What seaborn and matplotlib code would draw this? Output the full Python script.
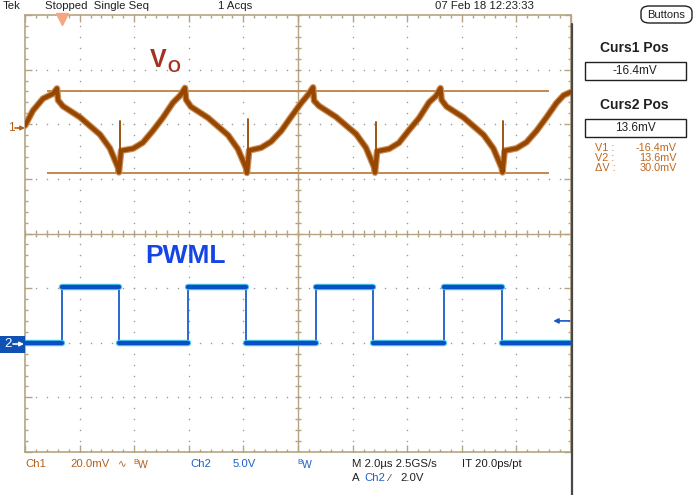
import numpy as np
import pandas as pd
import matplotlib
matplotlib.use("Agg")
import matplotlib.pyplot as plt
from matplotlib.patches import Rectangle, FancyBboxPatch, FancyArrowPatch
from matplotlib.lines import Line2D
import seaborn as sns

# ---- data (time in us, Ch1 in mV, Ch2 in V) ----
vo_t = [-10.0, -9.71, -9.34, -8.97, -8.83,
        -8.79, -8.61, -7.99, -7.25, -6.89, -6.59, -6.56, -6.48, -6.04, -5.68, -5.31, -4.95, -4.58, -4.32, -4.14,
        -4.10, -3.92, -3.30, -2.56, -2.20, -1.90, -1.87, -1.79, -1.35, -0.99, -0.62, -0.26, 0.11, 0.37, 0.55,
        0.59, 0.77, 1.39, 2.13, 2.49, 2.79, 2.82, 2.90, 3.34, 3.70, 4.07, 4.43, 4.80, 5.06, 5.22,
        5.26, 5.44, 6.06, 6.80, 7.16, 7.46, 7.49, 7.57, 8.01, 8.37, 8.74, 9.10, 9.47, 9.73, 10.0]
vo_mv = [1.1, 6.6, 11.0, 12.8, 14.7,
         10.4, 8.2, 4.2, -2.2, -7.2, -14.3, -16.0, -8.1, -7.3, -5.1, -0.7, 4.0, 9.5, 12.1, 14.9,
         10.6, 8.0, 4.0, -2.4, -7.5, -14.5, -16.2, -8.0, -7.0, -4.8, -0.9, 4.2, 9.3, 12.4, 15.1,
         10.2, 8.3, 4.3, -2.0, -7.0, -14.2, -16.1, -8.3, -7.4, -5.2, -0.5, 3.8, 9.6, 12.0, 14.8,
         10.5, 8.1, 4.1, -2.3, -7.3, -14.4, -16.0, -8.1, -7.2, -5.0, -0.8, 4.1, 9.4, 12.2, 13.4]

# narrow switching spikes on Vo
spike_t = [-6.53, -1.84, 2.85, 7.52]
spike_top_mv = [2.9, 3.4, 2.5, 2.7]
spike_base_mv = [-15.5, -15.7, -15.6, -15.5]

pwm_edges_us = [-8.65, -6.56, -4.03, -1.91, 0.66, 2.75, 5.35, 7.47]
pwm_low_v = 0.0
pwm_high_v = 5.1

cursor_mv = [-16.4, 13.6]
trig_level_v = 2.0

ch1_scale, ch1_offset = 20.0, 1.92   # mV/div, div
ch2_scale, ch2_offset = 5.0, -2.0    # V/div, div

# step trace for PWML (full) and its flat parts (drawn thicker, like the noise band)
bounds = [-10.0] + pwm_edges_us + [10.0]
levels = [pwm_low_v if i % 2 == 0 else pwm_high_v for i in range(len(bounds) - 1)]
step_t, step_v, flat_u = [], [], []
for i, lv in enumerate(levels):
    step_t += [bounds[i], bounds[i + 1]]
    step_v += [lv, lv]
    flat_u += [i, i]

vo_df = pd.DataFrame({"t": vo_t, "div": np.array(vo_mv) / ch1_scale + ch1_offset})
spk_df = pd.DataFrame({
    "t": np.repeat(spike_t, 2),
    "div": np.ravel(np.column_stack([spike_base_mv, spike_top_mv])) / ch1_scale + ch1_offset,
    "u": np.repeat(range(len(spike_t)), 2),
})
step_df = pd.DataFrame({"t": step_t, "div": np.array(step_v) / ch2_scale + ch2_offset, "u": flat_u})

sns.set_theme(style="white")
plt.rcParams["font.family"] = ["Liberation Sans", "DejaVu Sans"]

W, H = 698, 495
fig = plt.figure(figsize=(W / 100, H / 100), dpi=100)
fig.patch.set_facecolor("white")
ax = fig.add_axes([25 / W, 1 - 452 / H, 546 / W, 437 / H])
ax.set_xlim(-10, 10)
ax.set_ylim(-4, 4)

frame = "#b4a482"
for s in ax.spines.values():
    s.set_color(frame)
    s.set_linewidth(1.2)
ax.set_xticks(np.arange(-10, 10.01, 2))
ax.set_xticks(np.arange(-10, 10.01, 0.4), minor=True)
ax.set_yticks(np.arange(-4, 4.01, 1))
ax.set_yticks(np.arange(-4, 4.01, 0.2), minor=True)
ax.tick_params(which="both", direction="in", top=True, right=True, bottom=True, left=True,
               labelleft=False, labelbottom=False, color=frame, width=1)
ax.tick_params(which="major", length=5)
ax.tick_params(which="minor", length=2.5)

# center cross with ticks
ax.axhline(0, color=frame, lw=1, zorder=1)
ax.axvline(0, color=frame, lw=1, zorder=1)
mx = np.arange(-10, 10.01, 0.4)
my = np.arange(-4, 4.01, 0.2)
ax.vlines(mx, -0.06, 0.06, color=frame, lw=1, zorder=1)
ax.hlines(my, -0.11, 0.11, color=frame, lw=1, zorder=1)

# dotted graticule
gx, gy = [], []
for x in range(-8, 9, 2):
    if x != 0:
        gx += [x] * len(my)
        gy += list(my)
for y in range(-3, 4):
    if y != 0:
        gx += list(mx)
        gy += [y] * len(mx)
ax.scatter(gx, gy, s=1.2, color="#9a9a9a", linewidths=0, zorder=1)

# cursors
for c in cursor_mv:
    ax.hlines(c / ch1_scale + ch1_offset, -9.2, 9.2, color="#c08a50", lw=1.4, zorder=2)

# traces
sns.lineplot(data=vo_df, x="t", y="div", ax=ax, sort=False, estimator=None,
             color="#c98f5a", lw=4.8, zorder=3)
sns.lineplot(data=vo_df, x="t", y="div", ax=ax, sort=False, estimator=None,
             color="#974600", lw=3.1, zorder=4)
sns.lineplot(data=spk_df, x="t", y="div", units="u", ax=ax, sort=False, estimator=None,
             color="#974600", lw=1.3, zorder=4)
sns.lineplot(data=step_df, x="t", y="div", ax=ax, sort=False, estimator=None,
             color="#1a5ccc", lw=1.3, zorder=3)
sns.lineplot(data=step_df, x="t", y="div", units="u", ax=ax, sort=False, estimator=None,
             color="#46c4e6", lw=4.6, zorder=3)
sns.lineplot(data=step_df, x="t", y="div", units="u", ax=ax, sort=False, estimator=None,
             color="#0a4fc6", lw=3.0, zorder=4)
ax.set_xlabel("")
ax.set_ylabel("")

# trigger position marker and level arrow
ax.plot([pwm_edges_us[0]], [3.93], marker="v", ms=8, color="#f5a784", clip_on=False, zorder=6)
tl = trig_level_v / ch2_scale + ch2_offset
ax.add_patch(FancyArrowPatch((9.95, tl), (9.35, tl), arrowstyle="-|>", mutation_scale=7,
                             color="#1a55c0", lw=1.2, shrinkA=0, shrinkB=0, zorder=6))

# labels on the waveforms
fig.text(150 / W, 1 - 60 / H, "V", color="#a5321e", fontsize=18, fontweight="bold",
         va="center", ha="left")
fig.text(167 / W, 1 - 67 / H, "O", color="#a5321e", fontsize=12, fontweight="bold",
         va="center", ha="left")
fig.text(145 / W, 1 - 256 / H, "PWML", color="#1446e6", fontsize=19, fontweight="bold",
         va="center", ha="left")

def t(x, y, s, **kw):
    kw.setdefault("fontsize", 8.2)
    kw.setdefault("color", "#202020")
    kw.setdefault("va", "center")
    fig.text(x / W, 1 - y / H, s, **kw)

def arrow(x0, x1, y, color):
    fig.add_artist(FancyArrowPatch(
        (x0 / W, 1 - y / H), (x1 / W, 1 - y / H), transform=fig.transFigure,
        arrowstyle="-|>", mutation_scale=6, color=color, lw=1.2,
        shrinkA=0, shrinkB=0, zorder=5))

# top bar
t(3, 6, "Tek")
t(45, 6, "Stopped  Single Seq")
t(218, 6, "1 Acqs")
t(435, 6, "07 Feb 18 12:23:33")
fig.patches.append(FancyBboxPatch((641 / W, 1 - 23 / H), 51 / W, 17 / H,
                                  boxstyle="round,pad=0,rounding_size=0.012",
                                  transform=fig.transFigure, fc="white", ec="#202020", lw=1))
t(666, 15, "Buttons", ha="center", fontsize=8)

# channel markers on the left
ch1c, ch2c = "#b4601c", "#1e60c8"
t(8, 128, "1", color=ch1c, fontsize=8.5)
arrow(15, 25, 128, ch1c)
fig.patches.append(Rectangle((0, 1 - 353 / H), 25 / W, 17 / H, transform=fig.transFigure,
                             fc="#1052b4", ec="none", zorder=1))
t(4, 344, "2", color="white", fontsize=9.5, zorder=6)
arrow(13, 24, 344, "white")

# right dark edge
fig.add_artist(Line2D([571.5 / W] * 2, [1 - 24 / H, 0], color="#484848", lw=1.6, zorder=5))

# right side panel
t(634, 48, "Curs1 Pos", ha="center", fontsize=10, fontweight="bold")
fig.patches.append(Rectangle((585 / W, 1 - 80 / H), 101 / W, 18 / H, transform=fig.transFigure,
                             fc="white", ec="#202020", lw=1))
t(635, 71, "-16.4mV", ha="center", fontsize=8.5)
t(634, 105, "Curs2 Pos", ha="center", fontsize=10, fontweight="bold")
fig.patches.append(Rectangle((585 / W, 1 - 137 / H), 101 / W, 18 / H, transform=fig.transFigure,
                             fc="white", ec="#202020", lw=1))
t(635, 128, "13.6mV", ha="center", fontsize=8.5)
for i, (lab, val) in enumerate([("V1 :", "-16.4mV"), ("V2 :", "13.6mV"), ("\u0394V :", "30.0mV")]):
    t(595, 148 + 10 * i, lab, color="#c0661c", fontsize=7.8)
    t(677, 148 + 10 * i, val, color="#c0661c", fontsize=7.8, ha="right")

# bottom status line
t(25, 464, "Ch1", color=ch1c)
t(70, 464, "20.0mV", color=ch1c)
t(118, 464, "\u223f", color=ch1c, fontsize=7.5)
t(133, 462, "B", color=ch1c, fontsize=5.5)
t(138, 465, "W", color=ch1c, fontsize=7.5)
t(190, 464, "Ch2", color=ch2c)
t(233, 464, "5.0V", color=ch2c)
t(297, 462, "B", color=ch2c, fontsize=5.5)
t(302, 465, "W", color=ch2c, fontsize=7.5)
t(352, 464, "M 2.0\u00b5s 2.5GS/s")
t(462, 464, "IT 20.0ps/pt")
t(352, 478, "A")
t(364, 478, "Ch2", color=ch2c)
t(389, 478, "\u2215", fontsize=7)
t(400, 478, "2.0V")

fig.savefig("out.png", dpi=100)
